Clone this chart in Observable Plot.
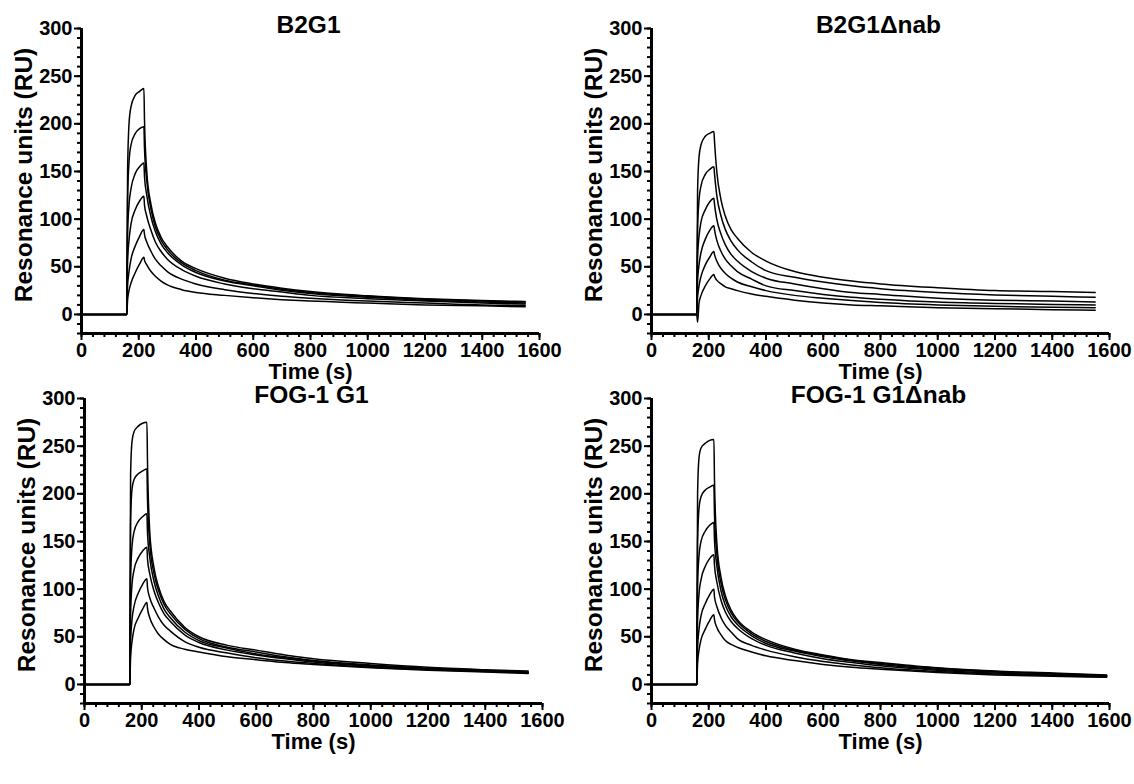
<!DOCTYPE html>
<html><head><meta charset="utf-8">
<script src="https://cdn.jsdelivr.net/npm/d3@7"></script>
<script src="https://cdn.jsdelivr.net/npm/@observablehq/plot@0.6"></script>
<style>
body{margin:0;background:#fff;}
#wrap{position:relative;width:1134px;height:784px;background:#fff;}
svg text{font-weight:bold;}
</style></head><body><div id="wrap"></div>
<script>
const titles = ["B2G1", "B2G1\u0394nab", "FOG-1 G1", "FOG-1 G1\u0394nab"];
const yLabel = "Resonance units (RU)";
const xLabel = "Time (s)";
const yTicks = [0, 50, 100, 150, 200, 250, 300];
const xTicks = [0, 200, 400, 600, 800, 1000, 1200, 1400, 1600];
const yDomain = [-20, 300];
const xDomain = [0, 1600];

const timesA = [0,158,161,166,173,188,203,218,220,228,243,258,278,300,350,400,500,600,700,800,1000,1200,1400,1550];
const timesD = [0,158,161,166,173,188,203,218,220,228,243,258,278,300,350,400,500,600,700,800,1000,1200,1400,1590];

const b2g1 = [
  [0,0,150,200,218,230,234,237, 205,150,115,96,81,71,56,48,38,32,27.5,24,19.5,16.5,14.5,13.5],
  [0,0,120,160,178,190,195,197, 175,140,110,92,78,68,54,46,36,31,26.5,23,19,16,14,13],
  [0,0,85,115,132,148,155,159, 145,125,102,87,74,65,52,44,35,30,25.5,22,18,15,13,12],
  [0,0,55,78,95,110,119,124, 115,103,88,76,66,58,47,40,32,27,23.5,20,16.5,14,12,11],
  [0,0,30,45,58,72,82,89, 84,76,66,58,51,45,37,32,26,22,19,17,14,12,10,9.5],
  [0,0,15,25,33,44,53,60, 57,52,45,40,35,31,26,23,20,17.5,15.5,14,12,10,9,8]
];
const b2g1nab = [
  [0,0,130,165,178,187,190,192, 182,150,120,103,89,80,65,56,45,39,35,32,28,25,24,23],
  [0,0,90,120,135,147,152,155, 148,125,103,89,77,68,55,46,39,34,30,27,23,20.5,19,18],
  [0,0,60,82,97,110,118,122, 116,100,84,73,63,56,45,38,32,27,23,21,17,15,14,13],
  [0,0,35,52,65,79,88,93, 89,78,66,58,51,45,37,30,25,21,18,16,13,11.5,10.5,10],
  [0,0,18,30,40,52,60,66, 63,56,48,43,38,34,29,25,20,17,14.5,12.5,10,8.5,7.5,7],
  [0,0,-8,12,20,30,37,42, 40,36,32,29,27,25,21.5,19,15,12,10,9,7,6,5,4.5]
];
const fog1g1 = [
  [0,0,220,255,265,271,274,275, 235,160,122,103,87,77,60,50,41,36,31,27,22,18,15.5,14],
  [0,0,170,205,215,221,224,226, 195,148,116,99,84,74,58,48,39,34,29,25,20.5,17,14.5,13],
  [0,0,110,145,160,171,176,179, 160,133,108,93,79,70,55,46,38,32,28,24.5,19.5,16.5,14,12.5],
  [0,0,75,105,120,133,140,144, 132,116,98,86,74,66,52,44,36,31,27,23.5,19,16,14,12.5],
  [0,0,45,68,82,96,105,111, 102,91,80,71,62,56,45,39,33,28,24.5,22,18,15.5,13.5,12],
  [0,0,28,45,58,70,79,86, 80,70,60,53,47,42,37,34,29,26,23,21,17.5,15,13,11.5]
];
const fog1g1nab = [
  [0,0,200,238,248,253,256,257, 215,150,112,93,78,68,55,47,37,31,26,23,17.5,14,12,10],
  [0,0,150,185,197,204,207,209, 178,138,106,89,75,66,53,45,36,30,25.5,22,17,13.5,11.5,9.5],
  [0,0,105,135,150,161,167,170, 152,125,98,83,71,63,51,43,35,29,24.5,21,16,13,11,9],
  [0,0,68,95,110,124,132,136, 125,108,88,76,66,59,48,41,33,27,23,19.5,15,12,10,8.5],
  [0,0,38,58,72,85,94,100, 92,82,70,62,55,48,41,36,29,24,20.5,17.5,13.5,11,9.5,8],
  [0,0,22,36,47,58,67,73, 68,60,52,46,42,39,34,30,25,21,18,16,12.5,10,8.5,7.5]
];

const panels = [
  {title: titles[0], times: timesA, curves: b2g1, left: 0, top: 0},
  {title: titles[1], times: timesA, curves: b2g1nab, left: 570, top: 0},
  {title: titles[2], times: timesA, curves: fog1g1, left: 3, top: 370},
  {title: titles[3], times: timesD, curves: fog1g1nab, left: 570, top: 370}
];

const yMinor = d3.range(yDomain[0], yDomain[1] + 1, 10);
const xMinor = d3.range(xDomain[0], xDomain[1] + 1, 40);
const font = "'Liberation Sans', Arial, sans-serif";
const fmt = d => String(d);

const wrap = document.getElementById("wrap");
for (const p of panels) {
  const data = p.curves.flatMap((vals, c) => p.times.map((t, i) => ({t, v: vals[i], c})));
  const svg = Plot.plot({
    width: 567, height: 386,
    marginLeft: 81, marginRight: 28, marginTop: 28, marginBottom: 53,
    x: {domain: xDomain, axis: null},
    y: {domain: yDomain, axis: null},
    style: {fontFamily: font, fontWeight: "bold", fontSize: "20px", color: "black", background: "transparent", overflow: "visible"},
    marks: [
      Plot.axisY({ticks: yMinor, tickSize: 4, tickFormat: () => "", strokeWidth: 2, label: null}),
      Plot.axisY({ticks: yTicks, tickSize: 7, tickPadding: 2, tickFormat: fmt, strokeWidth: 2, label: null, fontSize: 20, fontWeight: "bold"}),
      Plot.axisX({ticks: xMinor, tickSize: 4, tickFormat: () => "", strokeWidth: 2, label: null}),
      Plot.axisX({ticks: xTicks, tickSize: 7, tickPadding: 2, tickFormat: fmt, strokeWidth: 2, label: null, fontSize: 20, fontWeight: "bold"}),
      Plot.ruleX([xDomain[0]], {strokeWidth: 3, stroke: "black"}),
      Plot.ruleY([yDomain[0]], {strokeWidth: 3, stroke: "black"}),
      Plot.line(data, {x: "t", y: "v", z: "c", curve: "monotone-x", stroke: "black", strokeWidth: 1.5}),
      Plot.text([p.title], {text: d => d, frameAnchor: "top", lineAnchor: "middle", textAnchor: "middle", dx: -2, dy: -3, fontSize: 24.5, fontWeight: "bold", fill: "black"}),
      Plot.text([yLabel], {text: d => d, frameAnchor: "left", textAnchor: "middle", lineAnchor: "middle", rotate: -90, dx: -57, dy: -6, fontSize: 24.5, fontWeight: "bold", fill: "black"}),
      Plot.text([xLabel], {text: d => d, frameAnchor: "bottom", textAnchor: "middle", lineAnchor: "middle", dy: 38, fontSize: 22, fontWeight: "bold", fill: "black"})
    ]
  });
  svg.style.position = "absolute";
  svg.style.left = p.left + "px";
  svg.style.top = p.top + "px";
  wrap.appendChild(svg);
}
</script>
</body></html>
